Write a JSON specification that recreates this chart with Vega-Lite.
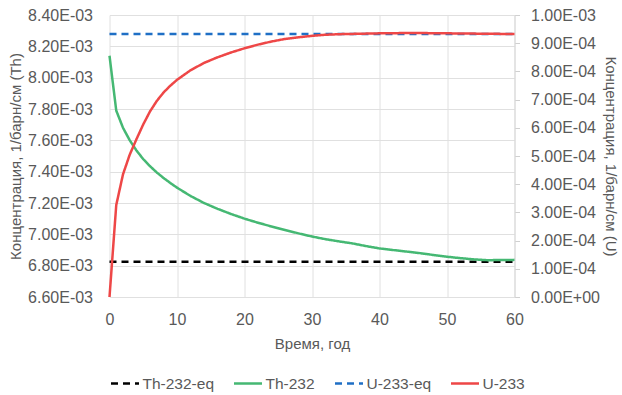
{
  "$schema": "https://vega.github.io/schema/vega-lite/v6.json",
  "width": 405,
  "height": 282,
  "autosize": {"type": "none"},
  "padding": {"left": 109.5, "top": 15, "right": 107.5, "bottom": 98},
  "background": "white",
  "config": {
    "view": {"stroke": null},
    "axis": {
      "labelFont": "Liberation Sans",
      "labelFontSize": 16,
      "labelColor": "#595959",
      "titleFont": "Liberation Sans",
      "titleFontSize": 15,
      "titleFontWeight": "normal",
      "titleColor": "#595959",
      "gridColor": "#e0e0e0",
      "gridWidth": 1,
      "labelFlush": false
    },
    "legend": {
      "labelFont": "Liberation Sans",
      "labelFontSize": 15.5,
      "labelColor": "#595959"
    }
  },
  "datasets": {
    "th": [
      {"t": 0, "value": 0.006825, "series": "Th-232-eq"},
      {"t": 60, "value": 0.006825, "series": "Th-232-eq"},
      {"t": 0, "value": 0.00814, "series": "Th-232"},
      {"t": 1, "value": 0.00779, "series": "Th-232"},
      {"t": 2, "value": 0.00768, "series": "Th-232"},
      {"t": 3, "value": 0.00760, "series": "Th-232"},
      {"t": 4, "value": 0.007535, "series": "Th-232"},
      {"t": 5, "value": 0.00748, "series": "Th-232"},
      {"t": 6, "value": 0.007435, "series": "Th-232"},
      {"t": 7, "value": 0.007395, "series": "Th-232"},
      {"t": 8, "value": 0.00736, "series": "Th-232"},
      {"t": 9, "value": 0.007328, "series": "Th-232"},
      {"t": 10, "value": 0.007298, "series": "Th-232"},
      {"t": 12, "value": 0.007245, "series": "Th-232"},
      {"t": 14, "value": 0.0072, "series": "Th-232"},
      {"t": 16, "value": 0.007163, "series": "Th-232"},
      {"t": 18, "value": 0.00713, "series": "Th-232"},
      {"t": 20, "value": 0.0071, "series": "Th-232"},
      {"t": 22, "value": 0.007074, "series": "Th-232"},
      {"t": 24, "value": 0.00705, "series": "Th-232"},
      {"t": 26, "value": 0.007028, "series": "Th-232"},
      {"t": 28, "value": 0.007006, "series": "Th-232"},
      {"t": 30, "value": 0.006986, "series": "Th-232"},
      {"t": 32, "value": 0.006969, "series": "Th-232"},
      {"t": 34, "value": 0.006955, "series": "Th-232"},
      {"t": 36, "value": 0.006942, "series": "Th-232"},
      {"t": 38, "value": 0.006925, "series": "Th-232"},
      {"t": 40, "value": 0.00691, "series": "Th-232"},
      {"t": 42, "value": 0.0069, "series": "Th-232"},
      {"t": 44, "value": 0.00689, "series": "Th-232"},
      {"t": 46, "value": 0.00688, "series": "Th-232"},
      {"t": 48, "value": 0.006868, "series": "Th-232"},
      {"t": 50, "value": 0.006857, "series": "Th-232"},
      {"t": 52, "value": 0.006848, "series": "Th-232"},
      {"t": 54, "value": 0.00684, "series": "Th-232"},
      {"t": 56, "value": 0.006835, "series": "Th-232"},
      {"t": 58, "value": 0.006836, "series": "Th-232"},
      {"t": 60, "value": 0.006837, "series": "Th-232"}
    ],
    "u": [
      {"t": 0, "value": 0.000933, "series": "U-233-eq"},
      {"t": 60, "value": 0.000933, "series": "U-233-eq"},
      {"t": 0, "value": 0.0, "series": "U-233"},
      {"t": 1, "value": 0.000326, "series": "U-233"},
      {"t": 2, "value": 0.000435, "series": "U-233"},
      {"t": 3, "value": 0.000505, "series": "U-233"},
      {"t": 4, "value": 0.00056, "series": "U-233"},
      {"t": 5, "value": 0.000612, "series": "U-233"},
      {"t": 6, "value": 0.000658, "series": "U-233"},
      {"t": 7, "value": 0.000695, "series": "U-233"},
      {"t": 8, "value": 0.000725, "series": "U-233"},
      {"t": 9, "value": 0.000749, "series": "U-233"},
      {"t": 10, "value": 0.00077, "series": "U-233"},
      {"t": 12, "value": 0.000804, "series": "U-233"},
      {"t": 14, "value": 0.00083, "series": "U-233"},
      {"t": 16, "value": 0.00085, "series": "U-233"},
      {"t": 18, "value": 0.000867, "series": "U-233"},
      {"t": 20, "value": 0.000882, "series": "U-233"},
      {"t": 22, "value": 0.000895, "series": "U-233"},
      {"t": 24, "value": 0.000906, "series": "U-233"},
      {"t": 26, "value": 0.000915, "series": "U-233"},
      {"t": 28, "value": 0.000921, "series": "U-233"},
      {"t": 30, "value": 0.000926, "series": "U-233"},
      {"t": 32, "value": 0.00093, "series": "U-233"},
      {"t": 34, "value": 0.000932, "series": "U-233"},
      {"t": 36, "value": 0.000933, "series": "U-233"},
      {"t": 38, "value": 0.000934, "series": "U-233"},
      {"t": 40, "value": 0.000935, "series": "U-233"},
      {"t": 42, "value": 0.0009355, "series": "U-233"},
      {"t": 44, "value": 0.000936, "series": "U-233"},
      {"t": 46, "value": 0.000936, "series": "U-233"},
      {"t": 48, "value": 0.0009355, "series": "U-233"},
      {"t": 50, "value": 0.000935, "series": "U-233"},
      {"t": 52, "value": 0.0009345, "series": "U-233"},
      {"t": 54, "value": 0.000934, "series": "U-233"},
      {"t": 56, "value": 0.0009335, "series": "U-233"},
      {"t": 58, "value": 0.000933, "series": "U-233"},
      {"t": 60, "value": 0.000933, "series": "U-233"}
    ]
  },
  "layer": [
    {
      "data": {"name": "th"},
      "mark": {"type": "line", "strokeWidth": 2.5},
      "encoding": {
        "x": {
          "field": "t", "type": "quantitative",
          "scale": {"domain": [0, 60], "nice": false},
          "axis": {
            "title": "Время, год",
            "values": [0, 10, 20, 30, 40, 50, 60],
            "ticks": false, "tickSize": 0, "domain": false,
            "labelPadding": 14, "titlePadding": 9,
            "grid": true
          }
        },
        "y": {
          "field": "value", "type": "quantitative",
          "scale": {"domain": [0.0066, 0.0084], "nice": false, "zero": false},
          "axis": {
            "orient": "left",
            "title": "Концентрация, 1/барн/см (Th)",
            "values": [0.0066, 0.0068, 0.007, 0.0072, 0.0074, 0.0076, 0.0078, 0.008, 0.0082, 0.0084],
            "labelExpr": "split(format(datum.value,'.2e'),'e')[0] + 'E' + (toNumber(split(format(datum.value,'.2e'),'e')[1]) < 0 ? '-' : '+') + (abs(toNumber(split(format(datum.value,'.2e'),'e')[1])) < 10 ? '0' : '') + abs(toNumber(split(format(datum.value,'.2e'),'e')[1]))",
            "ticks": false, "tickSize": 0, "domain": false,
            "labelPadding": 17, "titlePadding": 4,
            "grid": true
          }
        },
        "color": {
          "field": "series", "type": "nominal",
          "scale": {
            "domain": ["Th-232-eq", "Th-232", "U-233-eq", "U-233"],
            "range": ["#000000", "#45b873", "#1f6fc5", "#ee4747"]
          },
          "legend": {
            "title": null, "orient": "bottom", "direction": "horizontal",
            "symbolType": "stroke", "symbolSize": 784, "symbolStrokeWidth": 2.5,
            "columnPadding": 14, "labelOffset": 2, "offset": 17
          }
        },
        "strokeDash": {
          "field": "series", "type": "nominal",
          "scale": {
            "domain": ["Th-232-eq", "Th-232", "U-233-eq", "U-233"],
            "range": [[7, 5], [1, 0], [7, 5], [1, 0]]
          },
          "legend": {
            "title": null, "orient": "bottom", "direction": "horizontal",
            "symbolType": "stroke", "symbolSize": 784, "symbolStrokeWidth": 2.5,
            "columnPadding": 14, "labelOffset": 2, "offset": 17
          }
        }
      }
    },
    {
      "data": {"name": "u"},
      "mark": {"type": "line", "strokeWidth": 2.5},
      "encoding": {
        "x": {"field": "t", "type": "quantitative"},
        "y": {
          "field": "value", "type": "quantitative",
          "scale": {"domain": [0, 0.001], "nice": false},
          "axis": {
            "orient": "right",
            "title": "Концентрация, 1/барн/см (U)",
            "values": [0, 0.0001, 0.0002, 0.0003, 0.0004, 0.0005, 0.0006, 0.0007, 0.0008, 0.0009, 0.001],
            "labelExpr": "split(format(datum.value,'.2e'),'e')[0] + 'E' + (toNumber(split(format(datum.value,'.2e'),'e')[1]) < 0 ? '-' : '+') + (abs(toNumber(split(format(datum.value,'.2e'),'e')[1])) < 10 ? '0' : '') + abs(toNumber(split(format(datum.value,'.2e'),'e')[1]))",
            "ticks": true, "tickSize": 5, "tickColor": "#d0d0d0",
            "domain": true, "domainColor": "#d9d9d9",
            "labelPadding": 11, "titlePadding": 3,
            "grid": false
          }
        },
        "color": {"field": "series", "type": "nominal"},
        "strokeDash": {"field": "series", "type": "nominal"}
      }
    }
  ],
  "resolve": {"scale": {"y": "independent"}}
}
